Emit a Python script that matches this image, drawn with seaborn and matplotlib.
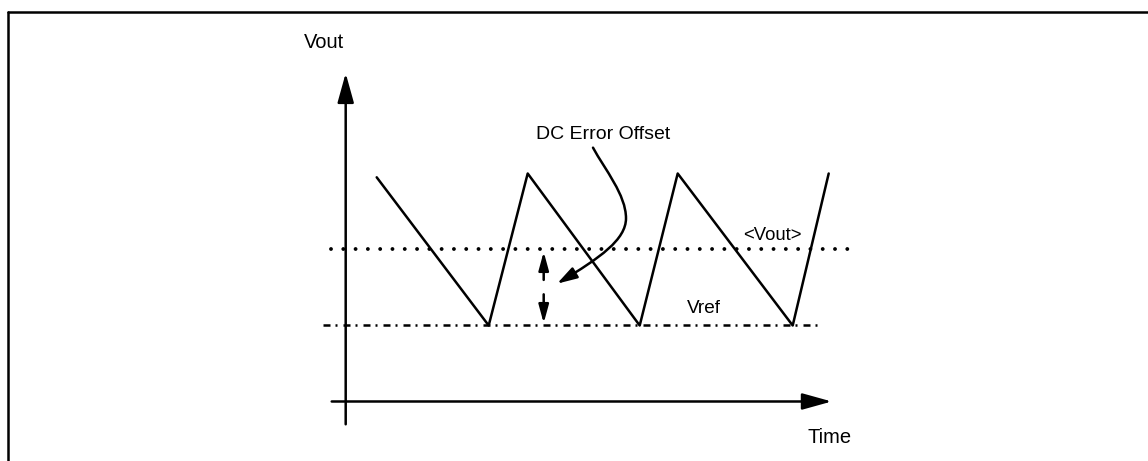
import seaborn as sns
import matplotlib.pyplot as plt
from matplotlib.patches import FancyArrowPatch
from matplotlib.path import Path
from matplotlib.lines import Line2D

# output ripple (time in arbitrary units, voltage in units of Vref)
wave_time = [3.1, 14.3, 18.2, 29.4, 33.2, 44.7, 48.3]
wave_volt = [2.95, 1.0, 3.0, 1.0, 3.0, 1.0, 3.0]

# reference levels and the span they are drawn over
v_ref = 1.0
v_avg = 2.0
ref_span = [-2.3, 47.7]
avg_span = [-1.5, 51.2]

# axis extents
time_axis = [-1.4, 48.6]
volt_axis = [-0.3, 4.32]

# offset marker between Vref and <Vout>
offset_time = 19.8
offset_up = [1.6, 1.97]
offset_down = [1.41, 1.03]

# callout curve from the label down to the offset (cubic bezier vertices)
callout_time = [24.73, 25.93, 28.03, 28.03, 28.03, 25.43, 21.13]
callout_volt = [3.34, 3.05, 2.72, 2.41, 2.13, 1.89, 1.55]

sns.set_theme(style="white")
plt.rcParams["font.family"] = ["Liberation Sans", "DejaVu Sans"]
plt.rcParams["text.color"] = "black"

fig = plt.figure(figsize=(11.48, 4.61), dpi=100)
ax = fig.add_axes([0, 0, 1, 1])

# sawtooth waveform
sns.lineplot(x=wave_time, y=wave_volt, ax=ax, color="black", lw=1.8, sort=False)

# <Vout> dotted and Vref dash-dot levels
ax.plot(avg_span, [v_avg, v_avg], color="black", lw=2.8,
        linestyle=(0, (0.001, 3.16)), dash_capstyle="round")
ax.plot(ref_span, [v_ref, v_ref], color="black", lw=1.8,
        linestyle=(0, (2.8, 2.0, 0.8, 2.4)), dash_capstyle="butt")

# axes with arrow heads
axis_style = "-|>,head_length=18,head_width=5"
ax.add_patch(FancyArrowPatch((time_axis[0], 0), (time_axis[1], 0), arrowstyle=axis_style,
                             mutation_scale=1, shrinkA=0, shrinkB=0, lw=1.8, color="black"))
ax.add_patch(FancyArrowPatch((0, volt_axis[0]), (0, volt_axis[1]), arrowstyle=axis_style,
                             mutation_scale=1, shrinkA=0, shrinkB=0, lw=1.8, color="black"))

# offset double arrow (split in two)
small_style = "-|>,head_length=11,head_width=3"
for span in (offset_up, offset_down):
    ax.add_patch(FancyArrowPatch((offset_time, span[0]), (offset_time, span[1]),
                                 arrowstyle=small_style, mutation_scale=1,
                                 shrinkA=0, shrinkB=0, lw=1.8, color="black"))

# curved callout
codes = [Path.MOVETO] + [Path.CURVE4] * 6
callout = Path(list(zip(callout_time, callout_volt)), codes)
ax.add_patch(FancyArrowPatch(path=callout, arrowstyle="-|>,head_length=12,head_width=3.6",
                             mutation_scale=1, lw=1.8, color="black"))

# labels
ax.text(-2.17, 4.72, "Vout", fontsize=14.5, ha="center", va="center")
ax.text(48.43, -0.48, "Time", fontsize=14.5, ha="center", va="center")
ax.text(25.73, 3.51, "DC Error Offset", fontsize=14, ha="center", va="center")
ax.text(42.63, 2.19, "<Vout>", fontsize=13.3, ha="center", va="center")
ax.text(35.83, 1.23, "Vref", fontsize=13.7, ha="center", va="center")

ax.set_xlim(-34.57, 80.23)
ax.set_ylim(-0.783, 5.283)
ax.set_axis_off()

# partial frame (top and left edges)
fig.add_artist(Line2D([8 / 1148, 1], [1 - 12 / 461] * 2, transform=fig.transFigure,
                      color="black", lw=1.8))
fig.add_artist(Line2D([8 / 1148] * 2, [0, 1 - 12 / 461], transform=fig.transFigure,
                      color="black", lw=1.8))

fig.savefig("out.png", dpi=100)
